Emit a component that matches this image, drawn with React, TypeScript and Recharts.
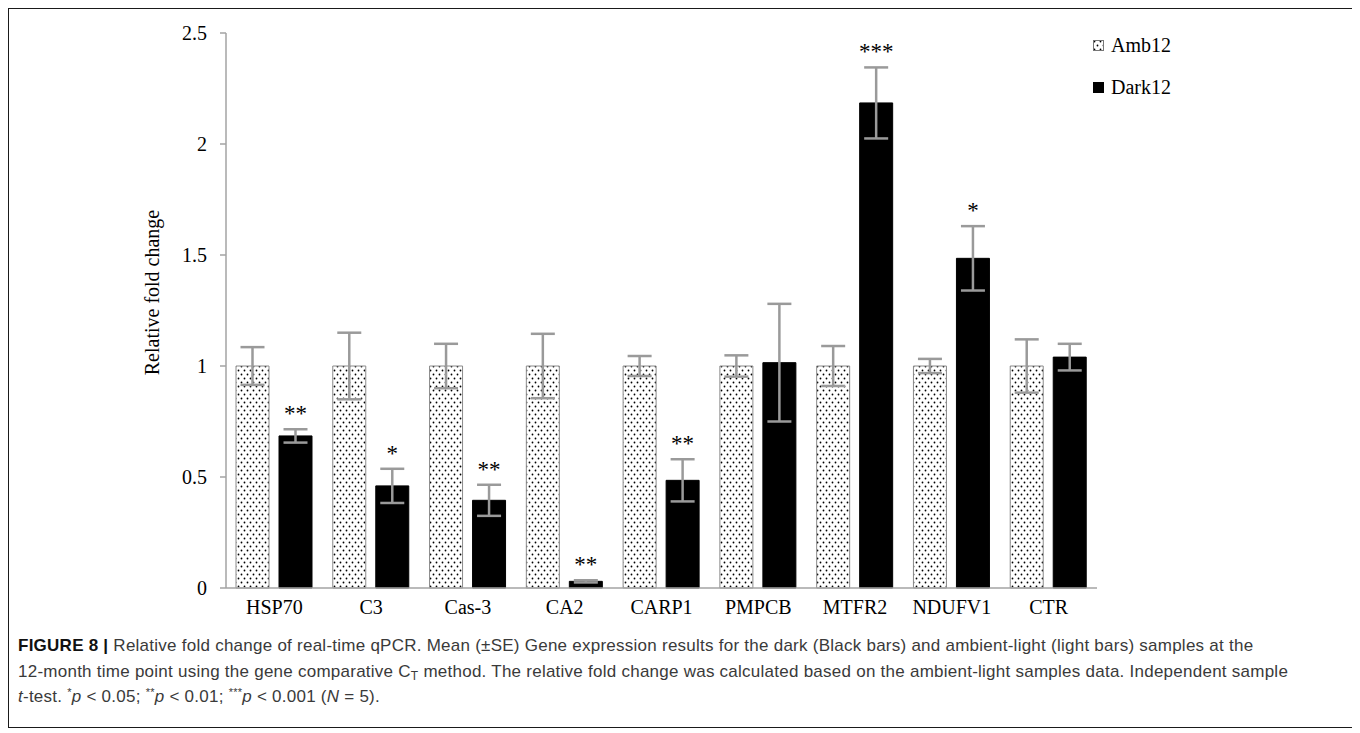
import React from "react";
import { BarChart, Bar, XAxis, YAxis, ErrorBar, LabelList, Legend, ReferenceArea } from "recharts";

const GENES = ["HSP70", "C3", "Cas-3", "CA2", "CARP1", "PMPCB", "MTFR2", "NDUFV1", "CTR"];
const AMB = [1, 1, 1, 1, 1, 1, 1, 1, 1];
const AMB_ERR = [0.085, 0.15, 0.1, 0.145, 0.045, 0.048, 0.09, 0.032, 0.12];
const DARK = [0.685, 0.46, 0.395, 0.03, 0.485, 1.015, 2.185, 1.485, 1.04];
const DARK_ERR = [0.03, 0.077, 0.07, 0.005, 0.095, 0.265, 0.16, 0.145, 0.06];
const SIG = ["**", "*", "**", "**", "**", "", "***", "*", ""];
const Y_TICKS = [0, 0.5, 1, 1.5, 2, 2.5];

const rows = GENES.map((gene, i) => ({
  gene,
  amb: AMB[i],
  ambErr: AMB_ERR[i],
  dark: DARK[i],
  darkErr: DARK_ERR[i],
  sig: SIG[i],
}));
const edgeTicks = GENES.map((_, i) => i).concat(GENES.length);

const SERIF = '"Liberation Serif", "Times New Roman", serif';
const SANS = '"Liberation Sans", Arial, sans-serif';
const AXIS_GRAY = "#a3a3a3";
const ERR_GRAY = "#9a9a9a";

function SigLabel(props: any) {
  const { x, y, width, height, index } = props;
  const text = SIG[index];
  if (!text) return null;
  const pxPerUnit = height / DARK[index];
  const capTop = y - DARK_ERR[index] * pxPerUnit;
  return (
    <text x={x + width / 2} y={capTop - 8} textAnchor="middle" fontFamily={SERIF} fontSize={23} fill="#000">
      {text}
    </text>
  );
}

function LegendBox() {
  const items = [
    { name: "Amb12", dotted: true },
    { name: "Dark12", dotted: false },
  ];
  return (
    <div style={{ fontFamily: SERIF, fontSize: 20, color: "#000" }}>
      {items.map((it) => (
        <div key={it.name} style={{ display: "flex", alignItems: "center", height: 42 }}>
          <svg width={11} height={11} style={{ marginRight: 7 }}>
            {it.dotted ? (
              <rect x={0.5} y={0.5} width={10} height={10} fill="url(#dots)" stroke="#777" />
            ) : (
              <rect x={0} y={0} width={11} height={11} fill="#000" />
            )}
          </svg>
          <span>{it.name}</span>
        </div>
      ))}
    </div>
  );
}

function YLabel(props: any) {
  const vb = props.viewBox;
  const cy = vb.y + vb.height / 2 - 18;
  return (
    <text
      transform={`translate(143, ${cy}) rotate(-90)`}
      textAnchor="middle"
      dominantBaseline="central"
      fontFamily={SERIF}
      fontSize={20}
      fill="#000"
    >
      Relative fold change
    </text>
  );
}

const supStyle: React.CSSProperties = { fontSize: 11, position: "relative", top: -6, lineHeight: 0 };

export default function App() {
  return (
    <div
      style={{
        position: "relative",
        width: 1346,
        height: 720,
        border: "1px solid #1a1a1a",
        boxSizing: "border-box",
        background: "#fff",
      }}
    >
      <div style={{ position: "absolute", left: 0, top: 0 }}>
        <BarChart
          width={1342}
          height={620}
          data={rows}
          margin={{ top: 24, right: 134, left: 0, bottom: 0 }}
          barCategoryGap={10}
          barGap={10}
        >
          <defs>
            <pattern id="dots" width={6} height={8} patternUnits="userSpaceOnUse">
              <rect width={6} height={8} fill="#fff" />
              <circle cx={1.5} cy={1.5} r={0.9} fill="#000" />
              <circle cx={4.5} cy={5.5} r={0.9} fill="#000" />
            </pattern>
          </defs>
          <XAxis
            xAxisId="edge"
            type="number"
            domain={[0, GENES.length]}
            ticks={edgeTicks}
            tick={false}
            axisLine={false}
            tickLine={{ stroke: AXIS_GRAY, strokeWidth: 1.5 }}
            tickSize={6}
            height={0}
            allowDataOverflow
          />
          <XAxis
            dataKey="gene"
            height={41}
            tickLine={false}
            tickSize={0}
            tickMargin={12}
            axisLine={{ stroke: AXIS_GRAY, strokeWidth: 1.5 }}
            tick={{ fontFamily: SERIF, fontSize: 20, fill: "#000" }}
            interval={0}
          />
          <YAxis
            width={217}
            domain={[0, 2.5]}
            ticks={Y_TICKS}
            tickSize={6}
            tickMargin={13}
            axisLine={{ stroke: AXIS_GRAY, strokeWidth: 1.5 }}
            tickLine={{ stroke: AXIS_GRAY, strokeWidth: 1.5 }}
            tick={{ fontFamily: SERIF, fontSize: 20, fill: "#000" }}
            label={{ content: YLabel }}
          />
          <ReferenceArea
            xAxisId="edge"
            x1={0}
            x2={GENES.length}
            y1={0}
            y2={2.5}
            fill="none"
            stroke="#e2e2e2"
            strokeWidth={1}
          />
          <Legend
            layout="horizontal"
            verticalAlign="middle"
            align="right"
            content={() => <LegendBox />}
            wrapperStyle={{ top: 15, left: 1084, width: 120 }}
          />
          <Bar dataKey="amb" name="Amb12" fill="url(#dots)" stroke="#8a8a8a" strokeWidth={1} isAnimationActive={false}>
            <ErrorBar dataKey="ambErr" width={12} stroke={ERR_GRAY} strokeWidth={2.5} />
          </Bar>
          <Bar dataKey="dark" name="Dark12" fill="#000" stroke="#000" isAnimationActive={false}>
            <ErrorBar dataKey="darkErr" width={12} stroke={ERR_GRAY} strokeWidth={2.5} />
            <LabelList dataKey="sig" content={SigLabel} />
          </Bar>
        </BarChart>
      </div>
      <div
        style={{
          position: "absolute",
          left: 9,
          top: 624,
          fontFamily: SANS,
          fontSize: 17,
          letterSpacing: 0.25,
          lineHeight: "25.5px",
          color: "#3a3a3a",
          whiteSpace: "nowrap",
        }}
      >
        <div>
          <b style={{ color: "#111" }}>FIGURE 8 |</b> Relative fold change of real-time qPCR. Mean (±SE) Gene
          expression results for the dark (Black bars) and ambient-light (light bars) samples at the
        </div>
        <div>
          12-month time point using the gene comparative C
          <sub style={{ fontSize: 12, position: "relative", top: 3, lineHeight: 0, verticalAlign: "baseline" }}>T</sub>{" "}
          method. The relative fold change was calculated based on the ambient-light samples data. Independent sample
        </div>
        <div>
          <i>t</i>-test. <span style={supStyle}>*</span>
          <i>p</i> &lt; 0.05; <span style={supStyle}>**</span>
          <i>p</i> &lt; 0.01; <span style={supStyle}>***</span>
          <i>p</i> &lt; 0.001 (<i>N</i> = 5).
        </div>
      </div>
    </div>
  );
}
